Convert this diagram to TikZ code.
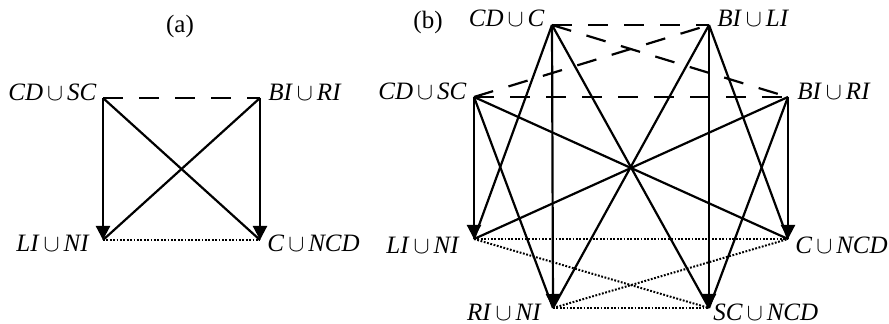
\documentclass[tikz,border=0pt]{standalone}
\usepackage{fontspec}
\setmainfont{Liberation Serif}
\usetikzlibrary{arrows.meta}
\newcommand{\uni}[2]{\textit{#1}$\,\cup\,$\textit{#2}}

\begin{document}
\begin{tikzpicture}[x=0.5pt,y=-0.5pt,
  edge/.style={line width=1.1pt},
  arr/.style={edge,-{Triangle[length=7pt,width=7pt]}},
  dsh/.style={line width=1.1pt,dash pattern=on 10pt off 8pt},
  dot/.style={line width=1pt,dash pattern=on 0.9pt off 0.8pt},
  lbl/.style={inner sep=0pt,font=\fontsize{12.5}{15}\selectfont}]
  \useasboundingbox (0,0) rectangle (889,324);
  % (a)
  \node[lbl] (ta) at (180,26) {(a)};
  \coordinate (a1) at (103,98);
  \coordinate (a2) at (260,98);
  \coordinate (a3) at (103,240);
  \coordinate (a4) at (260,240);
  \node[lbl,anchor=base east] (la1) at (97,101) {\uni{CD}{SC}};
  \node[lbl,anchor=base west] (la2) at (268,101) {\uni{BI}{RI}};
  \node[lbl,anchor=base east] (la3) at (90,252) {\uni{LI}{NI}};
  \node[lbl,anchor=base west] (la4) at (267,252) {\uni{C}{NCD}};
  \draw[dsh] (a1) -- (a2);
  \draw[dot] (a3) -- (a4);
  \draw[arr] (a1) -- (a3);
  \draw[arr] (a2) -- (a4);
  \draw[edge] (a1) -- (a4);
  \draw[edge] (a2) -- (a3);
  % (b)
  \node[lbl] (tb) at (428,22) {(b)};
  \coordinate (b1) at (552,25);
  \coordinate (b2) at (709,25);
  \coordinate (b3) at (474,97);
  \coordinate (b4) at (788,97);
  \coordinate (b5) at (474,239);
  \coordinate (b6) at (788,239);
  \coordinate (b7) at (553,308);
  \coordinate (b8) at (709,308);
  \node[lbl,anchor=base east] (lb1) at (545,27) {\uni{CD}{C}};
  \node[lbl,anchor=base west] (lb2) at (717,27) {\uni{BI}{LI}};
  \node[lbl,anchor=base east] (lb3) at (467,100) {\uni{CD}{SC}};
  \node[lbl,anchor=base west] (lb4) at (797,100) {\uni{BI}{RI}};
  \node[lbl,anchor=base east] (lb5) at (460,254) {\uni{LI}{NI}};
  \node[lbl,anchor=base west] (lb6) at (795,254) {\uni{C}{NCD}};
  \node[lbl,anchor=base east] (lb7) at (542,321) {\uni{RI}{NI}};
  \node[lbl,anchor=base west] (lb8) at (713,321) {\uni{SC}{NCD}};
  \foreach \s/\t in {b1/b2,b3/b4,b1/b4,b3/b2}
    \draw[dsh] (\s) -- (\t);
  \foreach \s/\t in {b5/b6,b7/b8,b5/b8,b7/b6}
    \draw[dot] (\s) -- (\t);
  \foreach \s/\t in {b3/b5,b1/b7,b2/b8,b4/b6}
    \draw[arr] (\s) -- (\t);
  \foreach \s/\t in {b3/b7,b3/b6,b1/b5,b1/b8,b2/b7,b2/b6,b4/b5,b4/b8}
    \draw[edge] (\s) -- (\t);
\end{tikzpicture}
\end{document}
